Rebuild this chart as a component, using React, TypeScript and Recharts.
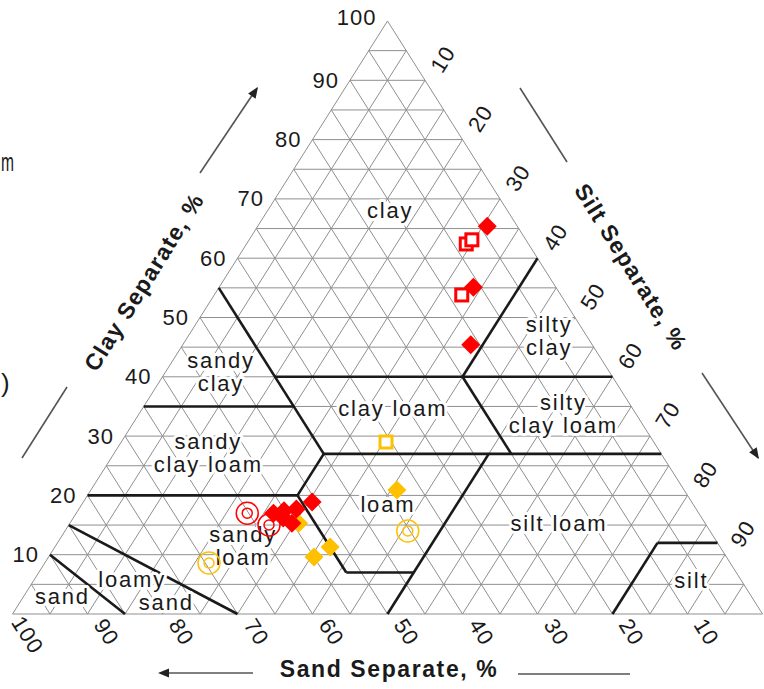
import { ScatterChart, Scatter, XAxis, YAxis, ReferenceLine, ReferenceDot } from "recharts";

const W = 764;
const H = 689;
const MARGIN = { top: 21, right: 1.5, bottom: 75, left: 12.5 };
const PLOT_W = W - MARGIN.left - MARGIN.right;
const PLOT_H = H - MARGIN.top - MARGIN.bottom;
const FONT = "'Liberation Sans', Arial, Helvetica, sans-serif";

const RED = "#ff0000";
const GOLD = "#ffc000";

const redDiamonds = [
  { clay: 65.4, silt: 30.6 },
  { clay: 55.1, silt: 33.9 },
  { clay: 45.4, silt: 38.4 },
  { clay: 18.9, silt: 30.5 },
  { clay: 17.0, silt: 26.3 },
  { clay: 17.4, silt: 27.5 },
  { clay: 17.7, silt: 29.0 },
  { clay: 16.2, silt: 28.0 },
  { clay: 15.3, silt: 29.6 },
];
const redSquares = [
  { clay: 62.4, silt: 29.3 },
  { clay: 63.1, silt: 29.7 },
  { clay: 53.8, silt: 33.0 },
];
const redTargets = [
  { clay: 17.0, silt: 22.8 },
  { clay: 15.0, silt: 26.7 },
];
const goldDiamonds = [
  { clay: 20.9, silt: 40.8 },
  { clay: 11.3, silt: 36.7 },
  { clay: 9.6, silt: 35.4 },
  { clay: 15.3, silt: 30.5 },
];
const goldSquares = [{ clay: 29.0, silt: 35.3 }];
const goldTargets = [
  { clay: 14.0, silt: 45.7 },
  { clay: 8.6, silt: 21.9 },
];

// USDA texture class boundaries, [clay, silt] polylines
const classLines: [number, number][][] = [
  [[55, 0], [27, 28]],
  [[40, 15], [40, 60]],
  [[35, 0], [35, 20]],
  [[27, 28], [27, 73]],
  [[40, 40], [27, 53]],
  [[40, 40], [60, 40]],
  [[20, 0], [20, 28]],
  [[27, 28], [20, 28]],
  [[20, 28], [7, 41]],
  [[7, 41], [7, 50]],
  [[27, 50], [0, 50]],
  [[0, 80], [12, 80]],
  [[12, 80], [12, 88]],
  [[0, 30], [15, 0]],
  [[0, 15], [10, 0]],
];

// class names, [clay, silt] of the label centre
const classNames: { lines: string[]; clay: number; silt: number }[] = [
  { lines: ["clay"], clay: 68.1, silt: 16.3 },
  { lines: ["silty", "clay"], clay: 46.9, silt: 48.1 },
  { lines: ["sandy", "clay"], clay: 40.8, silt: 7.4 },
  { lines: ["clay loam"], clay: 34.6, silt: 33.4 },
  { lines: ["silty", "clay loam"], clay: 33.7, silt: 56.6 },
  { lines: ["sandy", "clay loam"], clay: 27.2, silt: 12.5 },
  { lines: ["loam"], clay: 18.5, silt: 40.8 },
  { lines: ["silt loam"], clay: 15.3, silt: 65.2 },
  { lines: ["sandy", "loam"], clay: 11.5, silt: 25.0 },
  { lines: ["loamy"], clay: 5.9, silt: 13.0 },
  { lines: ["sand"], clay: 2.0, silt: 19.5 },
  { lines: ["sand"], clay: 2.9, silt: 5.2 },
  { lines: ["silt"], clay: 5.6, silt: 87.7 },
];

const gridSteps = [5, 10, 15, 20, 25, 30, 35, 40, 45, 50, 55, 60, 65, 70, 75, 80, 85, 90, 95];
const tickValues = [10, 20, 30, 40, 50, 60, 70, 80, 90, 100];

// ternary -> plane used by the x/y axes
const tern = (clay: number, silt: number) => ({ x: silt + clay / 2, y: clay });
// page pixel -> plane, for the decorations around the triangle
const fromPx = (px: number, py: number) => ({
  x: ((px - MARGIN.left) / PLOT_W) * 100,
  y: ((MARGIN.top + PLOT_H - py) / PLOT_H) * 100,
});

const seg = (a: { x: number; y: number }, b: { x: number; y: number }) => [a, b];

const outline = [
  seg(tern(0, 0), tern(100, 0)),
  seg(tern(100, 0), tern(0, 100)),
  seg(tern(0, 0), tern(0, 100)),
];
const gridSegments = [
  ...outline,
  ...gridSteps.map((c) => seg(tern(c, 0), tern(c, 100 - c))),
  ...gridSteps.map((s) => seg(tern(0, s), tern(100 - s, s))),
  ...gridSteps.map((sand) => seg(tern(0, 100 - sand), tern(100 - sand, 0))),
];

const textHalo = { stroke: "#fff", strokeWidth: 6, paintOrder: "stroke" as const, strokeLinejoin: "round" as const };

const Diamond = (color: string) => (p: any) => {
  const r = 9.5;
  return (
    <polygon
      points={`${p.cx},${p.cy - r} ${p.cx + r},${p.cy} ${p.cx},${p.cy + r} ${p.cx - r},${p.cy}`}
      fill={color}
    />
  );
};
const HollowSquare = (color: string) => (p: any) => (
  <rect x={p.cx - 6} y={p.cy - 6} width={12} height={12} fill="#fff" stroke={color} strokeWidth={3} />
);
const Target = (color: string) => (p: any) => (
  <g fill="none" stroke={color} strokeWidth={1.5}>
    <circle cx={p.cx} cy={p.cy} r={11} />
    <circle cx={p.cx} cy={p.cy} r={5} />
  </g>
);

type TextOpts = {
  size: number;
  weight?: string;
  anchor?: string;
  rotate?: number;
  spacing?: number;
  halo?: boolean;
  dx?: number;
  dy?: number;
  fit?: number;
};

const textShape = (lines: string[], opts: TextOpts) => (p: any) => {
  const x = p.cx + (opts.dx || 0);
  const y = p.cy + (opts.dy || 0);
  const lh = opts.size * 1.05;
  const first = -((lines.length - 1) * lh) / 2;
  return (
    <text
      x={x}
      y={y}
      fontFamily={FONT}
      fontSize={opts.size}
      fontWeight={opts.weight || "normal"}
      letterSpacing={opts.spacing || 0}
      textAnchor={opts.anchor || "middle"}
      fill="#1a1a1a"
      transform={opts.rotate ? `rotate(${opts.rotate} ${x} ${y})` : undefined}
      {...(opts.halo ? textHalo : {})}
    >
      {lines.map((l, i) => (
        <tspan
          key={i}
          x={x}
          dy={i === 0 ? first : lh}
          dominantBaseline="central"
          {...(opts.fit ? { textLength: opts.fit, lengthAdjust: "spacingAndGlyphs" } : {})}
        >
          {l}
        </tspan>
      ))}
    </text>
  );
};

const arrowHead = (angle: number) => (p: any) => (
  <polygon points="0,0 -11,-4.5 -11,4.5" fill="#222" transform={`translate(${p.cx} ${p.cy}) rotate(${angle})`} />
);

const decoLines = [
  { from: fromPx(200, 173), to: fromPx(257, 88) },
  { from: fromPx(22, 458), to: fromPx(67, 387) },
  { from: fromPx(520, 88), to: fromPx(567, 162) },
  { from: fromPx(702, 373), to: fromPx(758, 458) },
  { from: fromPx(253, 673), to: fromPx(162, 673) },
  { from: fromPx(518, 674), to: fromPx(630, 674) },
];
const arrowTips = [
  { at: fromPx(258, 87), angle: -56 },
  { at: fromPx(759, 459), angle: 56.5 },
  { at: fromPx(158, 673), angle: 180 },
];

const pts = (arr: { clay: number; silt: number }[]) => arr.map((d) => tern(d.clay, d.silt));

export default function App() {
  return (
    <div style={{ position: "absolute", left: 0, top: 0, width: W, height: H, background: "#fff" }}>
      <ScatterChart width={W} height={H} margin={MARGIN}>
        <XAxis type="number" dataKey="x" domain={[0, 100]} hide />
        <YAxis type="number" dataKey="y" domain={[0, 100]} hide />
        {gridSegments.map((s, i) => (
          <ReferenceLine key={`g${i}`} segment={s} stroke="#8f8f8f" strokeWidth={1} ifOverflow="visible" />
        ))}
        {classNames.map((c, i) => {
          const p = tern(c.clay, c.silt);
          return (
            <ReferenceDot
              key={`n${i}`}
              x={p.x}
              y={p.y}
              r={1}
              ifOverflow="visible"
              shape={textShape(c.lines, { size: 22, spacing: 1.8, halo: true })}
            />
          );
        })}
        {classLines.map((l, i) => (
          <ReferenceLine
            key={`c${i}`}
            segment={seg(tern(l[0][0], l[0][1]), tern(l[1][0], l[1][1]))}
            stroke="#1a1a1a"
            strokeWidth={2.6}
            ifOverflow="visible"
          />
        ))}
        {tickValues.map((v) => {
          const p = tern(v, 0);
          return (
            <ReferenceDot
              key={`tc${v}`}
              x={p.x}
              y={p.y}
              r={1}
              ifOverflow="visible"
              shape={textShape([String(v)], { size: 22, spacing: 1, anchor: "end", dx: -11, dy: v === 100 ? -4 : 0 })}
            />
          );
        })}
        {tickValues
          .filter((v) => v < 100)
          .map((v) => {
            const p = tern(100 - v, v);
            return (
              <ReferenceDot
                key={`ts${v}`}
                x={p.x}
                y={p.y}
                r={1}
                ifOverflow="visible"
                shape={textShape([String(v)], { size: 22, spacing: 1, dx: 18, dy: -21, rotate: -58 })}
              />
            );
          })}
        {tickValues.map((v) => {
          const p = tern(0, 100 - v);
          return (
            <ReferenceDot
              key={`tb${v}`}
              x={p.x}
              y={p.y}
              r={1}
              ifOverflow="visible"
              shape={textShape([String(v)], { size: 22, spacing: 1, dx: v === 100 ? 15 : 19, dy: v === 100 ? 21 : 18, rotate: 58 })}
            />
          );
        })}
        {decoLines.map((d, i) => (
          <ReferenceLine key={`d${i}`} segment={[d.from, d.to]} stroke="#555" strokeWidth={1.6} ifOverflow="visible" />
        ))}
        {arrowTips.map((a, i) => (
          <ReferenceDot key={`a${i}`} x={a.at.x} y={a.at.y} r={1} ifOverflow="visible" shape={arrowHead(a.angle)} />
        ))}
        <ReferenceDot
          {...fromPx(144, 282)}
          r={1}
          ifOverflow="visible"
          shape={textShape(["Clay Separate, %"], { size: 23, weight: "bold", spacing: 1.2, rotate: -58 })}
        />
        <ReferenceDot
          {...fromPx(631, 267)}
          r={1}
          ifOverflow="visible"
          shape={textShape(["Silt Separate, %"], { size: 23, weight: "bold", spacing: 1.2, rotate: 58 })}
        />
        <ReferenceDot
          {...fromPx(389, 669)}
          r={1}
          ifOverflow="visible"
          shape={textShape(["Sand Separate, %"], { size: 23, weight: "bold", spacing: 1.6 })}
        />
        <ReferenceDot
          {...fromPx(1, 162)}
          r={1}
          ifOverflow="visible"
          shape={textShape(["m"], { size: 26, anchor: "start", fit: 13 })}
        />
        <ReferenceDot
          {...fromPx(1, 383)}
          r={1}
          ifOverflow="visible"
          shape={textShape([")"], { size: 26, anchor: "start" })}
        />
        <Scatter data={pts(goldDiamonds)} shape={Diamond(GOLD)} isAnimationActive={false} />
        <Scatter data={pts(goldSquares)} shape={HollowSquare(GOLD)} isAnimationActive={false} />
        <Scatter data={pts(goldTargets)} shape={Target(GOLD)} isAnimationActive={false} />
        <Scatter data={pts(redDiamonds)} shape={Diamond(RED)} isAnimationActive={false} />
        <Scatter data={pts(redSquares)} shape={HollowSquare(RED)} isAnimationActive={false} />
        <Scatter data={pts(redTargets)} shape={Target(RED)} isAnimationActive={false} />
      </ScatterChart>
    </div>
  );
}
